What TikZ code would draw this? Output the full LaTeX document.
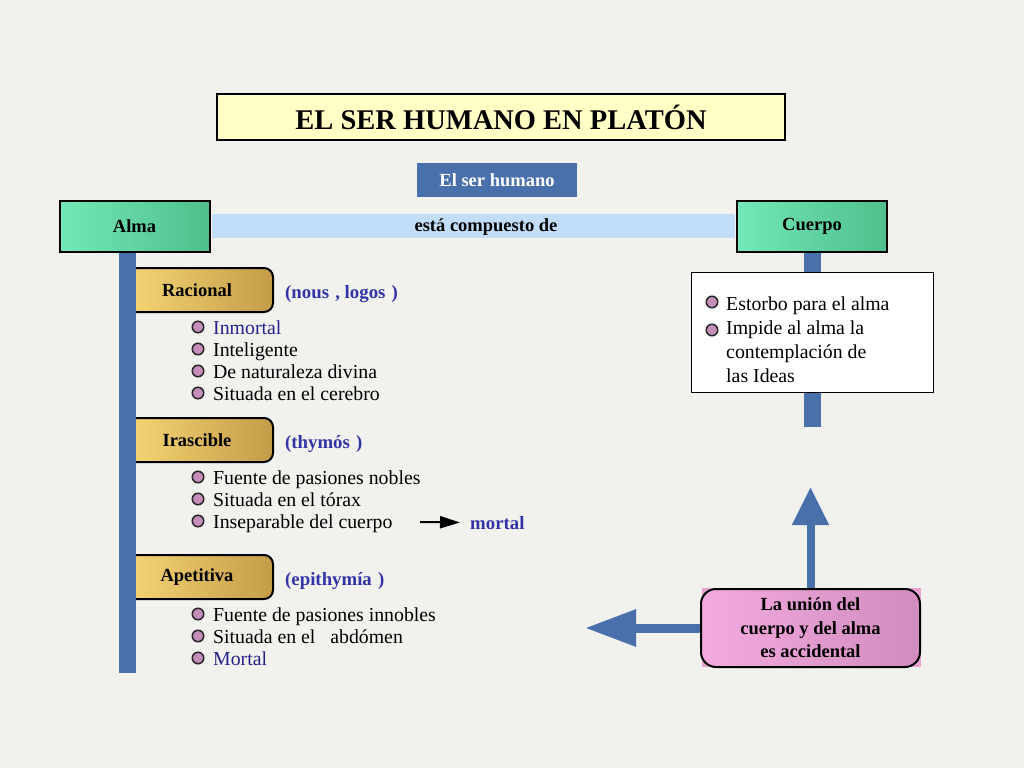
\documentclass[tikz,border=0pt]{standalone}
\usepackage{fontspec}
\setmainfont{Liberation Serif}
\usetikzlibrary{arrows.meta}
\definecolor{bgc}{HTML}{F1F1EE}
\definecolor{barblue}{HTML}{4A70AC}
\definecolor{lightbar}{HTML}{C2DDF8}
\definecolor{titlefill}{HTML}{FFFFC6}
\definecolor{greenL}{HTML}{74E8B8}
\definecolor{greenR}{HTML}{4EBE8C}
\definecolor{goldL}{HTML}{F6D676}
\definecolor{goldR}{HTML}{C49C48}
\definecolor{pinkL}{HTML}{F4AAE0}
\definecolor{pinkR}{HTML}{D08CBE}
\definecolor{pinkbg}{HTML}{E9A2D2}
\definecolor{bulletc}{HTML}{C58DBA}
\definecolor{bluetext}{HTML}{3333A8}
\definecolor{darkblue}{HTML}{23238A}
\begin{document}
\begin{tikzpicture}[x=1pt,y=-1pt,
  body/.style={font=\fontsize{19.8}{22.5}\selectfont, inner sep=0pt, anchor=base west},
  lbl/.style={font=\fontsize{18.5}{22}\selectfont\bfseries, inner sep=0pt},
  greenbox/.style={draw=black, line width=2pt, left color=greenL, right color=greenR, minimum width=150pt, minimum height=51pt, inner sep=0pt, font=\fontsize{18.5}{22}\selectfont\bfseries},
  goldbox/.style={draw=black, line width=2pt, rounded corners=9pt, left color=goldL, right color=goldR, minimum width=148pt, minimum height=44pt, inner sep=0pt, font=\fontsize{18.5}{22}\selectfont\bfseries},
  greek/.style={font=\fontsize{18.8}{22}\selectfont\bfseries, text=bluetext, inner sep=0pt, anchor=base west},
  bul/.style={circle, draw=black!85, line width=1.5pt, fill=bulletc, minimum size=11.5pt, inner sep=0pt},
  bigarrow/.style={draw=barblue, line width=9pt},
]
\fill[bgc] (0,0) rectangle (1024,768);
\useasboundingbox (0,0) rectangle (1024,768);

% title
\node[draw=black, line width=1.5pt, fill=titlefill, minimum width=568pt, minimum height=46pt, inner sep=0pt,
      font=\fontsize{28.5}{32}\selectfont\bfseries] (title) at (501,117) {EL SER HUMANO EN PLATÓN};
\node[fill=barblue, text=white, minimum width=160pt, minimum height=34pt, inner sep=0pt,
      font=\fontsize{18.5}{22}\selectfont\bfseries] (sh) at (497,180) {El ser humano};

% main boxes
\node[greenbox] (alma) at (134.5,226) {Alma};
\node[greenbox] (cuerpo) at (812,226) {\raisebox{-2pt}{Cuerpo}};
\draw[lightbar, line width=24pt, shorten <=1pt, shorten >=1pt] (alma.east) -- (cuerpo.west);
\node[lbl] (comp) at (486,227) {está compuesto de};

% soul parts
\node[goldbox] (rac) at (199,290) {\hspace*{-4pt}\raisebox{-1pt}{Racional}};
\node[goldbox] (ira) at (199,440) {\hspace*{-4pt}\raisebox{-1pt}{Irascible}};
\node[goldbox] (ape) at (199,577) {\hspace*{-4pt}\raisebox{-1pt}{Apetitiva}};
\coordinate (almaend) at (127.5,673);
\draw[barblue, line width=17pt] (almaend |- alma.south) -- (almaend);

\node[greek] (g1) at (285,298) {(nous\,\,, logos\,\,)};
\node[greek] (g2) at (285,448) {(thymós\,\,)};
\node[greek] (g3) at (285,585) {(epithymía\,\,)};

% Racional bullets
\node[bul] (r1) at (198,327) {};
\node[bul] (r2) at (198,349) {};
\node[bul] (r3) at (198,371) {};
\node[bul] (r4) at (198,393) {};
\node[body, text=darkblue] (rt1) at (213,334) {Inmortal};
\node[body] (rt2) at (213,356) {Inteligente};
\node[body] (rt3) at (213,378) {De naturaleza divina};
\node[body] (rt4) at (213,400) {Situada en el cerebro};

% Irascible bullets
\node[bul] (i1) at (198,477) {};
\node[bul] (i2) at (198,499) {};
\node[bul] (i3) at (198,521) {};
\node[body] (it1) at (213,484) {Fuente de pasiones nobles};
\node[body] (it2) at (213,506) {Situada en el tórax};
\node[body] (it3) at (213,528) {Inseparable del cuerpo};
\node[greek] (mortal) at (470,529) {mortal};
\coordinate (arstart) at (420,522);
\draw[line width=2pt, -{Triangle[width=12pt,length=20pt]}, shorten >=10pt] (arstart) -- (mortal.west);

% Apetitiva bullets
\node[bul] (a1) at (198,614) {};
\node[bul] (a2) at (198,636) {};
\node[bul] (a3) at (198,658) {};
\node[body] (at1) at (213,621) {Fuente de pasiones innobles};
\node[body] (at2) at (213,643) {Situada en el \ \ abdómen};
\node[body, text=darkblue] (at3) at (213,665) {Mortal};

% body column
\coordinate (cuerpoend) at (812,427);
\draw[barblue, line width=17pt] (cuerpo.south) -- (cuerpoend);
\node[draw=black, line width=1pt, fill=white, minimum width=242pt, minimum height=120pt, inner sep=0pt] (wbox) at (812,332) {};
\node[bul] (c1) at (712,302) {};
\node[bul] (c2) at (712,330) {};
\node[body] (ct1) at (726,310) {Estorbo para el alma};
\node[body] (ct2) at (726,334) {Impide al alma la};
\node[body] (ct3) at (726,358) {contemplación de};
\node[body] (ct4) at (726,382) {las Ideas};

% union box
\fill[pinkbg] (702,588) rectangle (921,667);
\node[draw=black, line width=2pt, rounded corners=15pt, left color=pinkL, right color=pinkR,
      minimum width=219pt, minimum height=78pt, inner sep=0pt, align=center,
      font=\fontsize{18.5}{23.5}\selectfont\bfseries] (union) at (810.5,628)
      {La unión del\\cuerpo y del alma\\es accidental};
\coordinate (uptip) at (810.5,487);
\coordinate (lefttip) at (585,628);
\draw[bigarrow, line width=8pt, -{Triangle[width=35pt,length=38pt]}] (union.north) -- (uptip);
\draw[bigarrow, -{Triangle[width=35pt,length=51pt]}] (union.west) -- (lefttip);
\end{tikzpicture}
\end{document}
